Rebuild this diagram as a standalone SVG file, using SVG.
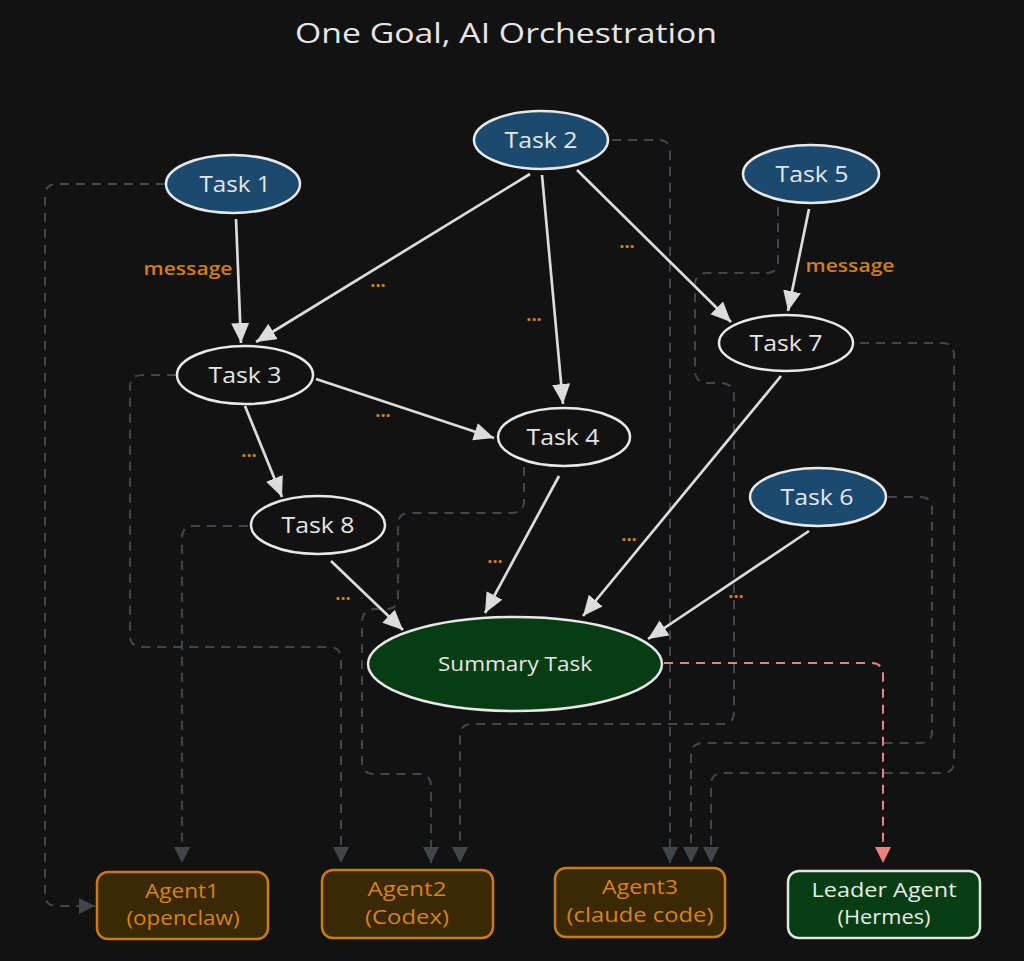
<svg xmlns="http://www.w3.org/2000/svg" width="1024" height="961" viewBox="0 0 1024 961">
<style>
.bg{fill:#121212}
.t{font-family:"Open Sans","Liberation Sans",sans-serif;fill:#e6e6e6;text-anchor:middle}
.nodeB{fill:#1b4a6e;stroke:#e8e8e8;stroke-width:2.5}
.nodeD{fill:#121212;stroke:#e8e8e8;stroke-width:2.5}
.nodeG{fill:#063d12;stroke:#e8e8e8;stroke-width:2.5}
.agent{fill:#3b2805;stroke:#c97b16;stroke-width:2.5}
.leader{fill:#063d12;stroke:#e0e6e0;stroke-width:2.5}
.at{font-family:"Open Sans","Liberation Sans",sans-serif;fill:#d5831b;text-anchor:middle;font-size:20px}
.lbl{font-family:"Open Sans","Liberation Sans",sans-serif;fill:#d37f12;text-anchor:middle;font-size:18px;font-weight:600}
.dots{font-family:"Open Sans","Liberation Sans",sans-serif;fill:#d37f12;text-anchor:middle;font-size:18px;font-weight:700}
.solid{fill:none;stroke:#dcdcdc;stroke-width:2.7;marker-end:url(#ah)}
.dash{fill:none;stroke:#41464d;stroke-width:2;stroke-dasharray:9 7;marker-end:url(#ahg)}
.red{fill:none;stroke:#f08080;stroke-width:2;stroke-dasharray:9 7;marker-end:url(#ahr)}
</style>
<defs>
<marker id="ah" markerUnits="userSpaceOnUse" markerWidth="22" markerHeight="20" refX="20" refY="9" orient="auto"><path d="M0,0 L20,9 L0,18 Z" fill="#dcdcdc"/></marker>
<marker id="ahg" markerUnits="userSpaceOnUse" markerWidth="18" markerHeight="18" refX="16" refY="8" orient="auto"><path d="M0,0 L16,8 L0,16 Z" fill="#41464d"/></marker>
<marker id="ahr" markerUnits="userSpaceOnUse" markerWidth="18" markerHeight="18" refX="16" refY="8" orient="auto"><path d="M0,0 L16,8 L0,16 Z" fill="#f08080"/></marker>
</defs>
<rect class="bg" x="0" y="0" width="1024" height="961"/>
<text class="t" x="506" y="43" font-size="27" textLength="422" lengthAdjust="spacingAndGlyphs">One Goal, AI Orchestration</text>

<g id="connectors">
<path class="dash" d="M165,184 H57 Q45,184 45,196 V894 Q45,906 57,906 H95"/>
<path class="dash" d="M612,140 H658 Q670,140 670,152 V863"/>
<path class="dash" d="M248,526 H194 Q182,526 182,538 V863"/>
<path class="dash" d="M176,375 H142 Q130,375 130,387 V635 Q130,647 142,647 H329 Q341,647 341,659 V863"/>
<path class="dash" d="M524,467 V501 Q524,513 512,513 H410 Q398,513 398,525 V598 Q398,609 386,609 H374 Q362,610 362,622 V762 Q362,774 374,774 H419 Q431,774 431,786 V863"/>
<path class="dash" d="M778,207 V261 Q778,273 766,273 H707 Q695,273 695,285 V370 Q695,383 707,383 H722 Q734,384 734,396 V712 Q734,724 722,724 H472 Q460,724 460,736 V863"/>
<path class="dash" d="M888,497 H920 Q932,497 932,509 V731 Q932,743 920,743 H703 Q691,743 691,755 V863"/>
<path class="dash" d="M860,343 H942 Q954,343 954,355 V761 Q954,773 942,773 H723 Q711,773 711,785 V863"/>
<path class="red" d="M664,663 H871 Q883,663 883,675 V863"/>

<path class="solid" d="M236,219 L241,343"/>
<path class="solid" d="M530,174 L256,342"/>
<path class="solid" d="M542,175 L563,404"/>
<path class="solid" d="M577,170 L731,322"/>
<path class="solid" d="M809,209 L788,311"/>
<path class="solid" d="M316,379 L494,438"/>
<path class="solid" d="M245,406 L282,497"/>
<path class="solid" d="M331,561 L403,630"/>
<path class="solid" d="M559,476 L485,613"/>
<path class="solid" d="M781,376 L583,616"/>
<path class="solid" d="M809,531 L648,639"/>

<text class="lbl" x="188" y="275" textLength="89" lengthAdjust="spacingAndGlyphs">message</text>
<text class="lbl" x="850" y="272" textLength="89" lengthAdjust="spacingAndGlyphs">message</text>
<text class="dots" x="378" y="287">...</text>
<text class="dots" x="534" y="321">...</text>
<text class="dots" x="627" y="248">...</text>
<text class="dots" x="383" y="417">...</text>
<text class="dots" x="249" y="457">...</text>
<text class="dots" x="343" y="600">...</text>
<text class="dots" x="495" y="563">...</text>
<text class="dots" x="629" y="541">...</text>
<text class="dots" x="736" y="598">...</text>
</g>

<g id="task1"><ellipse class="nodeB" cx="233" cy="184" rx="67" ry="29"/><text class="t" x="235" y="192" font-size="21" textLength="71" lengthAdjust="spacingAndGlyphs">Task 1</text></g>
<g id="task2"><ellipse class="nodeB" cx="541" cy="140" rx="67" ry="29"/><text class="t" x="541" y="148" font-size="21" textLength="73" lengthAdjust="spacingAndGlyphs">Task 2</text></g>
<g id="task5"><ellipse class="nodeB" cx="811" cy="174" rx="68" ry="29"/><text class="t" x="812" y="182" font-size="21" textLength="73" lengthAdjust="spacingAndGlyphs">Task 5</text></g>
<g id="task3"><ellipse class="nodeD" cx="245" cy="375" rx="68" ry="29"/><text class="t" x="245" y="383" font-size="21" textLength="73" lengthAdjust="spacingAndGlyphs">Task 3</text></g>
<g id="task7"><ellipse class="nodeD" cx="786" cy="343" rx="67" ry="28"/><text class="t" x="786" y="351" font-size="21" textLength="73" lengthAdjust="spacingAndGlyphs">Task 7</text></g>
<g id="task4"><ellipse class="nodeD" cx="564" cy="437" rx="66" ry="29"/><text class="t" x="563" y="445" font-size="21" textLength="73" lengthAdjust="spacingAndGlyphs">Task 4</text></g>
<g id="task6"><ellipse class="nodeB" cx="818" cy="497" rx="68" ry="29"/><text class="t" x="817" y="505" font-size="21" textLength="73" lengthAdjust="spacingAndGlyphs">Task 6</text></g>
<g id="task8"><ellipse class="nodeD" cx="318" cy="525" rx="67" ry="29"/><text class="t" x="318" y="533" font-size="21" textLength="73" lengthAdjust="spacingAndGlyphs">Task 8</text></g>
<g id="summary"><ellipse class="nodeG" cx="515" cy="664" rx="147" ry="47"/><text class="t" x="515" y="671" font-size="20" textLength="154" lengthAdjust="spacingAndGlyphs">Summary Task</text></g>

<g id="agent1"><rect class="agent" x="97" y="872" width="171" height="67" rx="11"/><text class="at" x="182" y="898" textLength="74" lengthAdjust="spacingAndGlyphs">Agent1</text><text class="at" x="183" y="925" textLength="113" lengthAdjust="spacingAndGlyphs">(openclaw)</text></g>
<g id="agent2"><rect class="agent" x="322" y="870" width="171" height="68" rx="11"/><text class="at" x="407" y="896" textLength="79" lengthAdjust="spacingAndGlyphs">Agent2</text><text class="at" x="407" y="924" textLength="84" lengthAdjust="spacingAndGlyphs">(Codex)</text></g>
<g id="agent3"><rect class="agent" x="555" y="868" width="170" height="69" rx="11"/><text class="at" x="640" y="894" textLength="76" lengthAdjust="spacingAndGlyphs">Agent3</text><text class="at" x="640" y="922" textLength="147" lengthAdjust="spacingAndGlyphs">(claude code)</text></g>
<g id="leader"><rect class="leader" x="788" y="871" width="192" height="67" rx="11"/><text class="at" x="884" y="897" style="fill:#e6ece6" textLength="145" lengthAdjust="spacingAndGlyphs">Leader Agent</text><text class="at" x="884" y="924" style="fill:#e6ece6" textLength="93" lengthAdjust="spacingAndGlyphs">(Hermes)</text></g>
</svg>
